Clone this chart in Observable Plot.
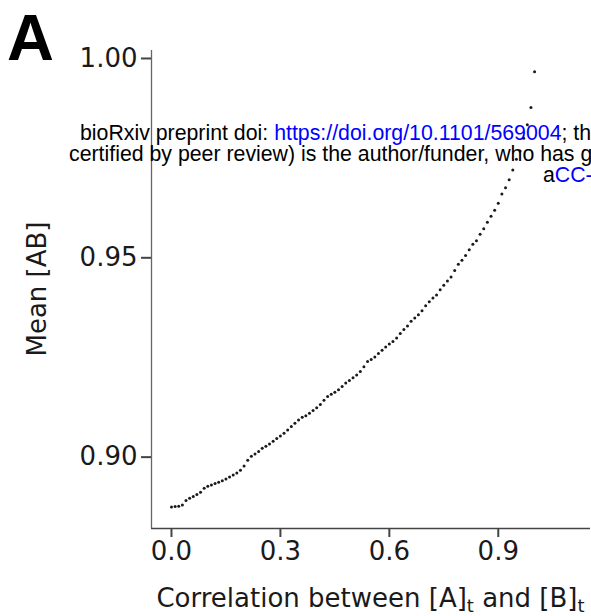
<!DOCTYPE html>
<html><head><meta charset="utf-8">
<script src="https://cdn.jsdelivr.net/npm/d3@7"></script>
<script src="https://cdn.jsdelivr.net/npm/@observablehq/plot@0.6"></script>
<style>
html,body{margin:0;padding:0;background:#fff;}
#chart{position:relative;width:591px;height:616px;overflow:hidden;}
</style></head><body><div id="chart"></div>
<script>
const correlation = [
  0.00,0.01,0.02,0.03,0.04,0.05,0.06,0.07,0.08,0.09,
  0.10,0.11,0.12,0.13,0.14,0.15,0.16,0.17,0.18,0.19,
  0.20,0.21,0.22,0.23,0.24,0.25,0.26,0.27,0.28,0.29,
  0.30,0.31,0.32,0.33,0.34,0.35,0.36,0.37,0.38,0.39,
  0.40,0.41,0.42,0.43,0.44,0.45,0.46,0.47,0.48,0.49,
  0.50,0.51,0.52,0.53,0.54,0.55,0.56,0.57,0.58,0.59,
  0.60,0.61,0.62,0.63,0.64,0.65,0.66,0.67,0.68,0.69,
  0.70,0.71,0.72,0.73,0.74,0.75,0.76,0.77,0.78,0.79,
  0.80,0.81,0.82,0.83,0.84,0.85,0.86,0.87,0.88,0.89,
  0.90,0.91,0.92,0.93,0.94,0.95,0.96,0.97,0.98,0.99,
  1.00
];
const meanAB = [
  0.8875,0.8876,0.8877,0.8880,0.8891,0.8897,0.8901,0.8906,0.8912,0.8922,
  0.8927,0.8930,0.8934,0.8937,0.8941,0.8945,0.8950,0.8955,0.8960,0.8967,
  0.8978,0.8992,0.9002,0.9008,0.9014,0.9022,0.9027,0.9033,0.9040,0.9047,
  0.9053,0.9060,0.9068,0.9077,0.9085,0.9093,0.9100,0.9104,0.9110,0.9117,
  0.9124,0.9132,0.9143,0.9152,0.9158,0.9163,0.9169,0.9177,0.9186,0.9192,
  0.9199,0.9206,0.9215,0.9227,0.9240,0.9245,0.9251,0.9260,0.9268,0.9276,
  0.9284,0.9290,0.9299,0.9310,0.9320,0.9329,0.9341,0.9349,0.9357,0.9367,
  0.9380,0.9390,0.9399,0.9407,0.9420,0.9431,0.9442,0.9452,0.9468,0.9484,
  0.9494,0.9506,0.9520,0.9534,0.9543,0.9559,0.9573,0.9589,0.9604,0.9619,
  0.9637,0.9660,0.9676,0.9696,0.9720,0.9747,0.9768,0.9800,0.9834,0.9877,
  0.9967
];
const xTicks = [0, 0.3, 0.6, 0.9];
const yTicks = [0.90, 0.95, 1.00];
const xDomain = [-0.055, 1.154];
const yDomain = [0.8821, 1.002];
const yTitle = "Mean [AB]";
const panelLabel = "A";

const data = correlation.map((c, i) => ({c, m: meanAB[i]}));
const ink = "#1a1a1a";

const plot = Plot.plot({
  width: 591, height: 616,
  marginLeft: 151, marginRight: 1, marginTop: 50, marginBottom: 88,
  style: {fontFamily: "'DejaVu Sans', sans-serif", fontSize: "26px", color: ink, background: "#fff"},
  x: {domain: xDomain},
  y: {domain: yDomain},
  marks: [
    Plot.ruleX([xDomain[0]], {stroke: "#666", strokeWidth: 1.3}),
    Plot.ruleY([yDomain[0]], {stroke: "#444", strokeWidth: 1.3}),
    Plot.axisY({ticks: yTicks, tickFormat: d => d.toFixed(2), tickSize: 10, tickPadding: 4,
      label: null, stroke: "#444", strokeWidth: 2, fill: ink, fontSize: 26}),
    Plot.axisX({ticks: xTicks, tickFormat: d => d.toFixed(1), tickSize: 9, tickPadding: 4,
      label: null, stroke: "#444", strokeWidth: 2, fill: ink, fontSize: 26}),
    Plot.dot(data, {x: "c", y: "m", r: 1.5, fill: ink, stroke: null})
  ]
});
document.getElementById("chart").appendChild(plot);

const svg = d3.select(plot);
// y title
svg.append("text")
  .attr("transform", "translate(46,289) rotate(-90)")
  .attr("text-anchor", "middle")
  .attr("font-family", "'DejaVu Sans', sans-serif")
  .attr("font-size", 26).attr("fill", ink)
  .text(yTitle);
// x title with subscripts
const xt = svg.append("text")
  .attr("x", 370.5).attr("y", 607)
  .attr("text-anchor", "middle")
  .attr("font-family", "'DejaVu Sans', sans-serif")
  .attr("font-size", 26).attr("fill", ink);
xt.append("tspan").text("Correlation between [A]");
xt.append("tspan").attr("font-size", 18).attr("dy", 5).text("t");
xt.append("tspan").attr("dy", -5).text(" and [B]");
xt.append("tspan").attr("font-size", 18).attr("dy", 5).text("t");
// panel label
svg.append("text")
  .attr("x", 7).attr("y", 60)
  .attr("text-anchor", "start")
  .attr("font-family", "'Liberation Sans', Arial, sans-serif")
  .attr("font-weight", "bold").attr("font-size", 65).attr("fill", "#000")
  .text(panelLabel);
// preprint overlay text
const wm = svg.append("g")
  .attr("text-anchor", "start")
  .attr("font-family", "'Liberation Sans', Arial, sans-serif")
  .attr("font-size", 21.3).attr("fill", "#000");
const l1 = wm.append("text").attr("x", 80).attr("y", 139.5);
l1.append("tspan").text("bioRxiv preprint doi: ");
l1.append("tspan").attr("fill", "#0000ff").text("https://doi.org/10.1101/569004");
l1.append("tspan").text("; th");
wm.append("text").attr("x", 69).attr("y", 160.5)
  .text("certified by peer review) is the author/funder, who has g");
const l3 = wm.append("text").attr("x", 543).attr("y", 182);
l3.append("tspan").text("a");
l3.append("tspan").attr("fill", "#0000ff").text("CC-");
</script>
</body></html>
